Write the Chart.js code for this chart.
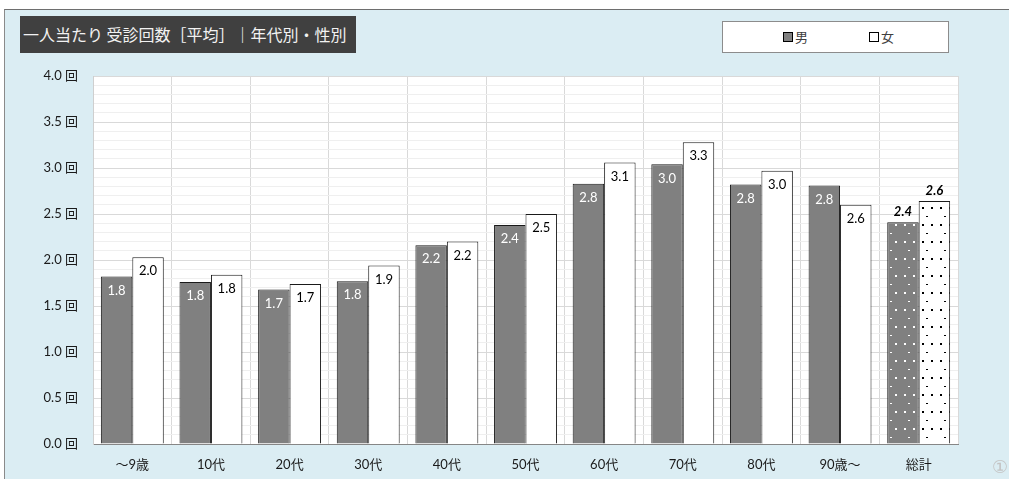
<!DOCTYPE html>
<html>
<head>
<meta charset="utf-8">
<script src="https://cdn.jsdelivr.net/npm/chart.js@4.4.1/dist/chart.umd.min.js"></script>
<style>
  html, body { margin: 0; padding: 0; background: #ffffff; }
  #wrap { position: relative; width: 1009px; height: 479px; overflow: hidden; background: #ffffff;
          font-family: Lato, 'Noto Sans CJK JP', sans-serif; }
  #frame { position: absolute; left: 4px; top: 9px; width: 1020px; height: 490px;
           background: #DBEDF3; border-left: 1px solid #8a8a8a; border-top: 1px solid #6e6e6e; }
  #title { position: absolute; left: 20px; top: 16px; width: 336px; height: 37px; background: #404040;
           color: #f2f2f2; font-size: 16px; line-height: 37px; padding-left: 3px; box-sizing: border-box;
           white-space: nowrap; font-family: 'Noto Sans CJK JP', sans-serif; }
  #legend { position: absolute; left: 722px; top: 21px; width: 227px; height: 32px; background: #ffffff;
            border: 1px solid #8c8c8c; box-sizing: border-box; font-size: 13px; color: #404040;
            font-family: 'Noto Sans CJK JP', sans-serif; }
  .li { position: absolute; top: 6px; line-height: 18px; white-space: nowrap; }
  .sw { display: inline-block; width: 8px; height: 8px; border: 1px solid #000; vertical-align: 0px; margin-right: 2px; }
  #mark { position: absolute; left: 992px; top: 457px; font-size: 18px; line-height: 20px; color: #c4c4c4;
          font-family: 'DejaVu Sans', sans-serif; }
  canvas { position: absolute; left: 0; top: 0; }
</style>
</head>
<body>
<div id="wrap">
  <div id="frame"></div>
  <div id="title">一人当たり 受診回数［平均］｜年代別・性別</div>
  <div id="legend">
    <span class="li" style="left:60px"><span class="sw" style="background:#808080"></span>男</span>
    <span class="li" style="left:146px"><span class="sw" style="background:#ffffff"></span>女</span>
  </div>
  <canvas id="c" width="1009" height="479"></canvas>
  <div id="mark">①</div>
</div>
<script>
const categories = ['～9歳', '10代', '20代', '30代', '40代', '50代', '60代', '70代', '80代', '90歳～', '総計'];
const maleValues   = [1.82, 1.76, 1.68, 1.77, 2.16, 2.38, 2.83, 3.04, 2.82, 2.81, 2.41];
const femaleValues = [2.03, 1.84, 1.74, 1.94, 2.20, 2.50, 3.06, 3.28, 2.97, 2.60, 2.64];
const seriesNames  = ['男', '女'];
const yTickStep = 0.1;
const yMax = 4.0;

const FONT = "Lato, 'Noto Sans CJK JP', sans-serif";

function makePattern(bg, dot) {
  const p = document.createElement('canvas');
  p.width = 18; p.height = 17;
  const g = p.getContext('2d');
  g.fillStyle = bg; g.fillRect(0, 0, 18, 17);
  g.fillStyle = dot;
  g.fillRect(4, 3, 2, 2);
  g.fillRect(13, 3, 2, 2);
  g.fillRect(8, 12, 2, 1);
  return document.getElementById('c').getContext('2d').createPattern(p, 'repeat');
}
const malePattern = makePattern('#808080', '#ffffff');
const femalePattern = makePattern('#ffffff', '#000000');
const lastIdx = categories.length - 1;

const bgPlugin = {
  id: 'plotBg',
  beforeDraw(chart) {
    const a = chart.chartArea, ctx = chart.ctx;
    ctx.save();
    ctx.fillStyle = '#ffffff';
    ctx.fillRect(a.left, a.top, a.right - a.left, a.bottom - a.top);
    ctx.restore();
  }
};

const labelPlugin = {
  id: 'barLabels',
  afterDatasetsDraw(chart) {
    const ctx = chart.ctx;
    ctx.save();
    ctx.textAlign = 'center';
    ctx.textBaseline = 'middle';
    chart.data.datasets.forEach((ds, di) => {
      const meta = chart.getDatasetMeta(di);
      meta.data.forEach((el, i) => {
        const txt = ds.data[i].toFixed(1);
        if (i === lastIdx) {
          ctx.font = 'italic bold 13px ' + FONT;
          ctx.fillStyle = '#000000';
          ctx.fillText(txt, el.x, el.y - 10);
        } else {
          ctx.font = '13px ' + FONT;
          ctx.fillStyle = di === 0 ? '#ffffff' : '#000000';
          ctx.fillText(txt, el.x, el.y + 14);
        }
      });
    });
    ctx.restore();
  }
};

new Chart(document.getElementById('c'), {
  type: 'bar',
  data: {
    labels: categories,
    datasets: [
      {
        label: seriesNames[0],
        data: maleValues,
        backgroundColor: ctx => ctx.dataIndex === lastIdx ? malePattern : '#808080',
        borderColor: '#1a1a1a',
        borderWidth: 1,
        borderSkipped: 'bottom'
      },
      {
        label: seriesNames[1],
        data: femaleValues,
        backgroundColor: ctx => ctx.dataIndex === lastIdx ? femalePattern : '#ffffff',
        borderColor: '#1a1a1a',
        borderWidth: 1,
        borderSkipped: 'bottom'
      }
    ]
  },
  options: {
    responsive: false,
    animation: false,
    devicePixelRatio: 1,
    layout: { padding: { top: 76, right: 51, left: 0, bottom: 0 } },
    datasets: { bar: { categoryPercentage: 0.8, barPercentage: 1.0 } },
    plugins: { legend: { display: false }, title: { display: false }, tooltip: { enabled: false } },
    scales: {
      x: {
        afterFit(s) { s.height = 35; },
        grid: { offset: true, color: '#d9d9d9', drawTicks: false, lineWidth: 1 },
        border: { color: '#868686', width: 1 },
        ticks: { color: '#1a1a1a', font: { family: FONT, size: 13 }, padding: 13, maxRotation: 0 }
      },
      y: {
        min: 0, max: yMax,
        afterFit(s) { s.width = 93; },
        grid: {
          drawTicks: false,
          color: c => (Math.round(c.tick.value * 10) % 5 === 0) ? '#d9d9d9' : '#efefef',
          lineWidth: 1
        },
        border: { color: '#cfcfcf', width: 1 },
        ticks: {
          stepSize: yTickStep,
          autoSkip: false,
          padding: 15,
          color: '#1a1a1a',
          font: { family: FONT, size: 13 },
          callback: v => (Math.round(v * 10) % 5 === 0) ? (Math.round(v * 10) / 10).toFixed(1) + ' 回' : ''
        }
      }
    }
  },
  plugins: [bgPlugin, labelPlugin]
});
</script>
</body>
</html>
